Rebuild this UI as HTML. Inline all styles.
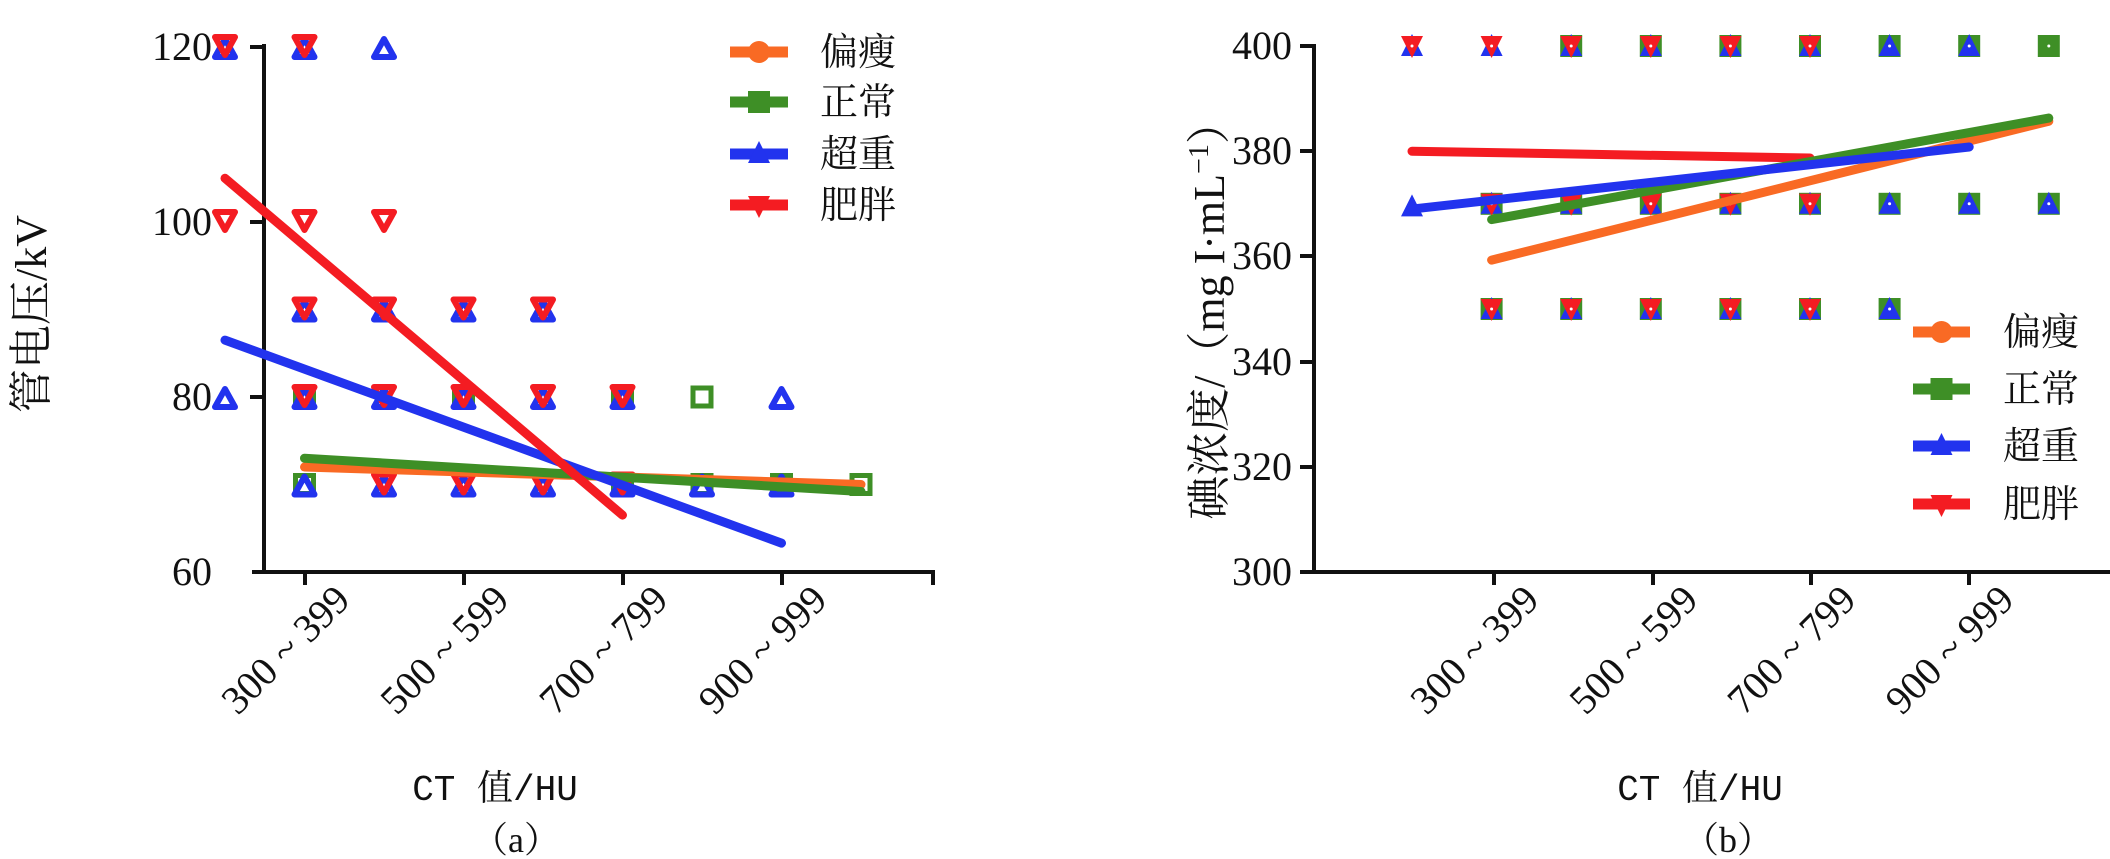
<!DOCTYPE html>
<html><head><meta charset="utf-8"><style>
html,body{margin:0;padding:0;background:#fff;}
svg{display:block;}
.t{font-family:"Liberation Serif","DejaVu Serif",serif;font-size:40px;fill:#111;}
.c{font-family:"Liberation Serif","Noto Serif CJK SC",serif;font-size:38px;fill:#111;}
.x{font-family:"Liberation Serif","Noto Serif CJK SC",serif;font-size:36px;fill:#111;}
</style></head><body>
<svg id="s" width="2110" height="859" viewBox="0 0 2110 859" xmlns="http://www.w3.org/2000/svg">
<g stroke="#111" stroke-width="4" fill="none">
<line x1="264" y1="44" x2="264" y2="574"/>
<line x1="252" y1="572" x2="935" y2="572"/>
<line x1="250" y1="47" x2="264" y2="47"/><line x1="250" y1="222" x2="264" y2="222"/><line x1="250" y1="397" x2="264" y2="397"/>
<line x1="305" y1="572" x2="305" y2="585"/><line x1="464" y1="572" x2="464" y2="585"/><line x1="623" y1="572" x2="623" y2="585"/><line x1="782" y1="572" x2="782" y2="585"/><line x1="933" y1="572" x2="933" y2="585"/>
</g>
<g class="t" text-anchor="end">
<text x="212" y="60">120</text><text x="212" y="235">100</text><text x="212" y="410">80</text><text x="212" y="585">60</text>
</g>
<g class="t" text-anchor="end">
<text transform="translate(352,602) rotate(-45)">300 ~ 399</text>
<text transform="translate(511,602) rotate(-45)">500 ~ 599</text>
<text transform="translate(670,602) rotate(-45)">700 ~ 799</text>
<text transform="translate(829,602) rotate(-45)">900 ~ 999</text>
</g>
<text class="x" style="font-size:44px" transform="translate(46,314) rotate(-90)" text-anchor="middle">管电压/kV</text>
<text x="495" y="800" text-anchor="middle" style="font-family:'Liberation Mono','Noto Serif CJK SC',monospace;font-size:36px;fill:#111">CT 值/HU</text>
<text class="x" x="516" y="852" text-anchor="middle">（a）</text>

<g stroke="#111" stroke-width="4" fill="none">
<line x1="1314" y1="44" x2="1314" y2="574"/>
<line x1="1300" y1="572" x2="2110" y2="572"/>
<line x1="1300" y1="46" x2="1314" y2="46"/><line x1="1300" y1="151" x2="1314" y2="151"/><line x1="1300" y1="256" x2="1314" y2="256"/><line x1="1300" y1="362" x2="1314" y2="362"/><line x1="1300" y1="467" x2="1314" y2="467"/>
<line x1="1494" y1="572" x2="1494" y2="585"/><line x1="1653" y1="572" x2="1653" y2="585"/><line x1="1811" y1="572" x2="1811" y2="585"/><line x1="1969" y1="572" x2="1969" y2="585"/>
</g>
<g class="t" text-anchor="end">
<text x="1292" y="59">400</text><text x="1292" y="164">380</text><text x="1292" y="269">360</text><text x="1292" y="375">340</text><text x="1292" y="480">320</text><text x="1292" y="585">300</text>
</g>
<g class="t" text-anchor="end">
<text transform="translate(1541,602) rotate(-45)">300 ~ 399</text>
<text transform="translate(1700,602) rotate(-45)">500 ~ 599</text>
<text transform="translate(1858,602) rotate(-45)">700 ~ 799</text>
<text transform="translate(2016,602) rotate(-45)">900 ~ 999</text>
</g>
<text class="x" style="font-size:44px" transform="translate(1224,310) rotate(-90)" text-anchor="middle">碘浓度/（mg I·mL<tspan font-size="28" dy="-16">−1</tspan><tspan dy="16">）</tspan></text>
<text x="1700" y="800" text-anchor="middle" style="font-family:'Liberation Mono','Noto Serif CJK SC',monospace;font-size:36px;fill:#111">CT 值/HU</text>
<text class="x" x="1728" y="852" text-anchor="middle">（b）</text>

<g id="g"></g>
</svg>
<script>
var NS="http://www.w3.org/2000/svg",G=document.getElementById('g');
function el(t,a){var e=document.createElementNS(NS,t);for(var k in a)e.setAttribute(k,a[k]);G.appendChild(e);return e;}
var O="#f96a24",GR="#3e8f26",B="#2233ee",R="#f41c22";
function sq(x,y){el('rect',{x:x-9,y:y-9,width:18,height:18,fill:'none',stroke:GR,'stroke-width':5});}
function up(x,y,c){el('polygon',{points:(x)+','+(y-10)+' '+(x+10)+','+(y+8)+' '+(x-10)+','+(y+8),fill:'none',stroke:c||B,'stroke-width':6,'stroke-linejoin':'round'});}
function dn(x,y,c){el('polygon',{points:(x)+','+(y+10)+' '+(x+10)+','+(y-8)+' '+(x-10)+','+(y-8),fill:'none',stroke:c||R,'stroke-width':6,'stroke-linejoin':'round'});}
function line(x1,y1,x2,y2,c){el('line',{x1:x1,y1:y1,x2:x2,y2:y2,stroke:c,'stroke-width':9,'stroke-linecap':'round'});}
var L=function(i){return 225+79.5*i;},LY=function(v){return 572-(v-60)*8.75;};
var mk=[[0,120,'ud'],[0,100,'d'],[0,80,'u'],[1,120,'ud'],[1,100,'d'],[1,90,'ud'],[1,80,'sud'],[1,70,'su'],
[2,120,'u'],[2,100,'d'],[2,90,'ud'],[2,80,'ud'],[2,70,'ud'],[3,90,'ud'],[3,80,'sud'],[3,70,'ud'],
[4,90,'ud'],[4,80,'ud'],[4,70,'ud'],[5,80,'sud'],[5,70,'sud'],[6,80,'s'],[6,70,'su'],[7,80,'u'],[7,70,'su'],[8,70,'s']];
mk.forEach(function(m){var x=L(m[0]),y=LY(m[1]);if(m[2].indexOf('s')>=0)sq(x,y);if(m[2].indexOf('u')>=0)up(x,y+2);if(m[2].indexOf('d')>=0)dn(x,y-2);});
line(L(1),LY(72),L(8),LY(70),O);
line(L(1),LY(73),L(8),LY(69.2),GR);
line(L(0),LY(86.5),L(7),LY(63.3),B);
line(L(0),LY(105),L(5),LY(66.5),R);
function leg(list,x1,x2,tx){list.forEach(function(a,i){
 el('line',{x1:x1,y1:a[2],x2:x2,y2:a[2],stroke:a[0],'stroke-width':11});
 var x=(x1+x2)/2,y=a[2];
 if(i==0)el('circle',{cx:x,cy:y,r:11,fill:a[0]});
 if(i==1)el('rect',{x:x-11,y:y-11,width:22,height:22,fill:a[0]});
 if(i==2)el('polygon',{points:x+','+(y-13)+' '+(x+11)+','+(y+9)+' '+(x-11)+','+(y+9),fill:a[0]});
 if(i==3)el('polygon',{points:x+','+(y+13)+' '+(x+11)+','+(y-9)+' '+(x-11)+','+(y-9),fill:a[0]});
 var t=el('text',{x:tx,y:a[2]+13,'class':'c'});t.textContent=a[1];});}
leg([[O,'偏瘦',52],[GR,'正常',102],[B,'超重',154],[R,'肥胖',205]],730,788,820);
var Rx=function(i){return 1412+79.6*i;},RY=function(v){return 572-(v-300)*5.26;};
function fsq(x,y){el('rect',{x:x-11,y:y-11,width:22,height:22,fill:GR});}
function fup(x,y){el('polygon',{points:x+','+(y-12)+' '+(x+11)+','+(y+10)+' '+(x-11)+','+(y+10),fill:B});}
function fdn(x,y){el('polygon',{points:x+','+(y+12)+' '+(x+11)+','+(y-10)+' '+(x-11)+','+(y-10),fill:R});}
function rm(i,v,s){var x=Rx(i),y=RY(v);if(s.indexOf('s')>=0)fsq(x,y);if(s.indexOf('u')>=0)fup(x,y);if(s.indexOf('d')>=0)fdn(x,y);el('circle',{cx:x,cy:y,r:1.5,fill:'#fff'});}
for(var i=0;i<=5;i++)rm(i,400,i<2?'ud':'sud');rm(6,400,'su');rm(7,400,'su');rm(8,400,'s');
rm(0,369.5,'u');for(i=1;i<=5;i++)rm(i,370,'sud');rm(6,370,'su');rm(7,370,'su');rm(8,370,'su');
for(i=1;i<=5;i++)rm(i,350,'sud');rm(6,350,'su');
line(Rx(0),RY(380),Rx(5),RY(378.7),R);
line(Rx(1),RY(359.3),Rx(8),RY(385.7),O);
line(Rx(1),RY(367),Rx(8),RY(386.3),GR);
line(Rx(0),RY(369),Rx(7),RY(380.8),B);
leg([[O,'偏瘦',332],[GR,'正常',389],[B,'超重',446],[R,'肥胖',504]],1913,1970,2003);
</script>
</body></html>
